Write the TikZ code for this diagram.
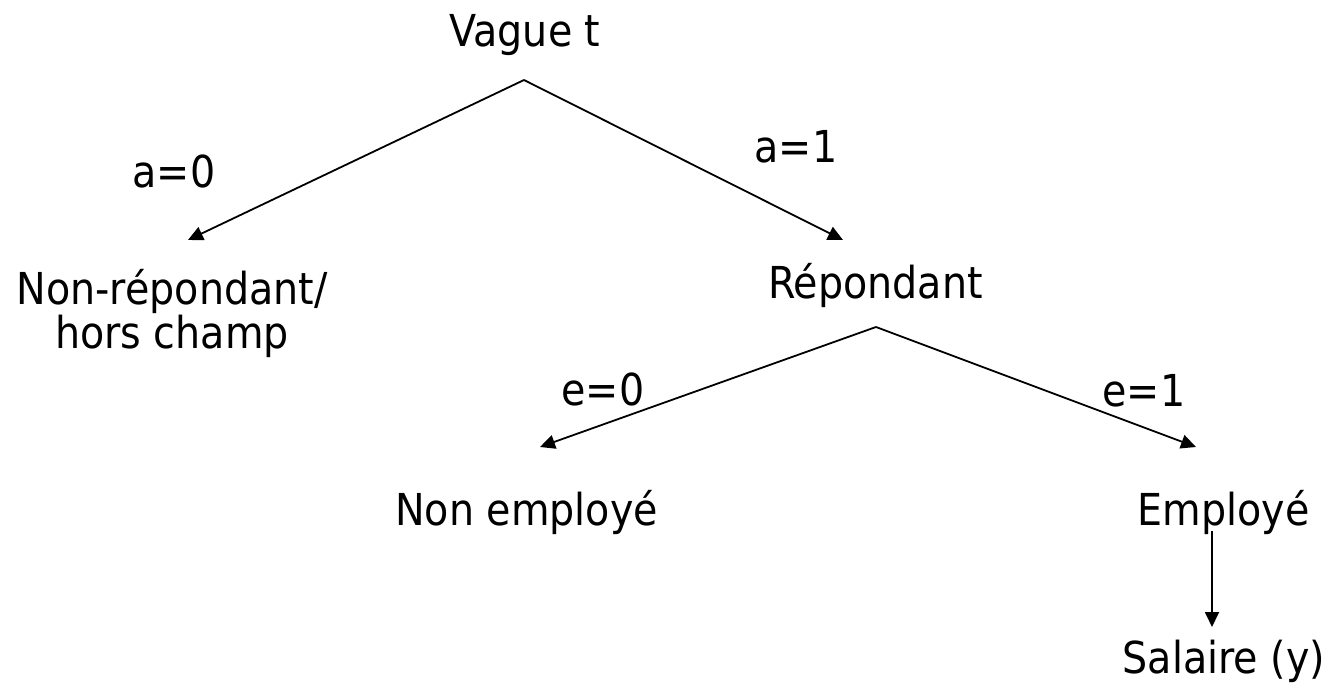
\documentclass[tikz,border=0pt]{standalone}
\usepackage{fontspec}
\setmainfont{DejaVu Sans}[FakeStretch=0.9]
\usetikzlibrary{arrows.meta}
\begin{document}
\begin{tikzpicture}[x=1pt,y=-1pt,
  lbl/.style={inner sep=0pt, anchor=base, font=\fontsize{44}{41}\selectfont},
  arr/.style={line width=1.8pt, -{Triangle[length=15pt,width=14pt]}}]
\useasboundingbox (0,0) rectangle (1334,693);
\node[lbl] (vague) at (525,47) {Vague t};
\node[lbl] (a0) at (174,187) {a=0};
\node[lbl] (a1) at (796,162) {a=1};
\node[lbl, align=center] (nonrep) at (172,348) {Non-répondant/\\hors champ};
\node[lbl] (rep) at (875.5,298) {Répondant};
\node[lbl] (e0) at (603,405) {e=0};
\node[lbl] (e1) at (1144,406) {e=1};
\node[lbl] (nonemp) at (526.5,525) {Non employé};
\node[lbl] (emp) at (1223.5,525) {Employé};
\node[lbl] (sal) at (1224,673) {Salaire (y)};
\coordinate (v0) at (524,80);
\coordinate (tnr) at (188,240);
\coordinate (trep) at (843,240);
\coordinate (r0) at (876,327);
\coordinate (tne) at (540,447);
\coordinate (temp) at (1196,447);
\coordinate (m0) at (1212,531);
\coordinate (tsal) at (1212,627);
\draw[arr] (v0) -- (tnr);
\draw[arr] (v0) -- (trep);
\draw[arr] (r0) -- (tne);
\draw[arr] (r0) -- (temp);
\draw[arr] (m0) -- (tsal);
\end{tikzpicture}
\end{document}
